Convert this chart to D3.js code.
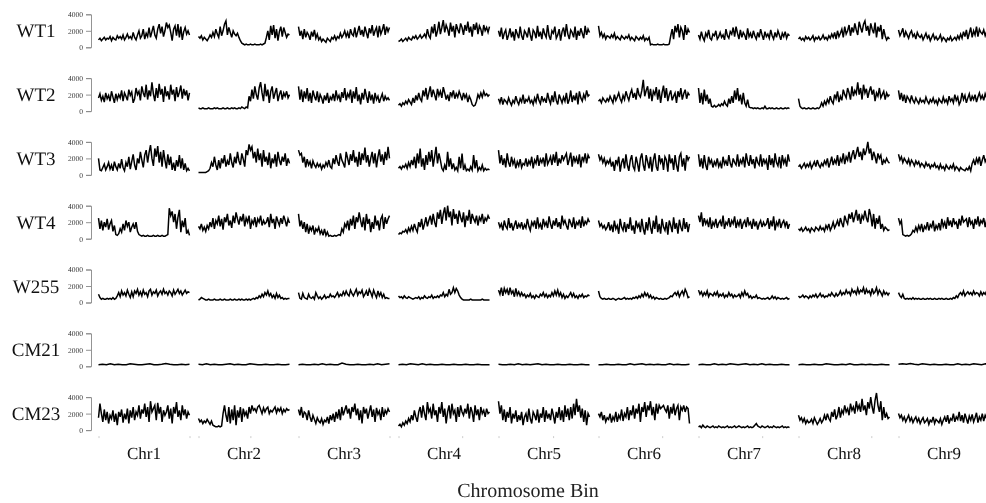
<!DOCTYPE html>
<html>
<head>
<meta charset="utf-8">
<script src="https://cdn.jsdelivr.net/npm/d3@7"></script>
<style>
html,body{margin:0;padding:0;background:#fff;}
svg{display:block;will-change:transform;}
text{text-rendering:geometricPrecision;}
</style>
</head>
<body>
<svg id="chart" width="986" height="503"></svg>
<script>
// Read counts per chromosome bin, in hundreds (20 = 2000)
const samples = ["WT1","WT2","WT3","WT4","W255","CM21","CM23"];
const chromosomes = ["Chr1","Chr2","Chr3","Chr4","Chr5","Chr6","Chr7","Chr8","Chr9"];
const yTicks = [0, 20, 40];
const xTickFrac = [[0,1],[0,0.57],[0,1],[0,0.7],[0,0.6],[0,0.7],[0,0.7],[0,0.8],[0]];
const xAxisTitle = "Chromosome Bin";

const WT1 = [
[9,11,8,10,12,9,11,10,13,8,12,10,9,14,11,13,10,15,9,12,16,11,13,10,18,12,9,15,20,11,14,22,10,17,13,24,12,19,26,15,11,22,28,17,25,13,20,30,24,27,18,8,22,26,14,28,12,25,9,19,24,16,20,15],
[13,11,14,9,12,10,8,11,15,12,18,13,22,16,12,25,14,20,28,32,15,24,18,12,20,16,14,17,12,8,5,4,3,4,3,3,4,3,3,4,3,3,3,4,3,4,5,12,20,9,26,15,27,11,22,8,19,25,13,24,18,12,16,15],
[25,14,20,10,22,12,18,15,9,19,13,21,11,16,9,12,7,10,8,6,11,9,7,12,10,14,9,13,11,17,12,15,20,13,18,11,22,16,14,24,12,19,26,15,21,13,25,18,11,23,17,27,14,20,24,12,26,16,21,28,15,25,19,24],
[7,8,10,7,9,11,8,12,10,9,13,11,14,10,12,15,11,13,16,12,22,14,11,25,17,28,13,20,31,16,24,33,18,27,22,14,30,19,26,12,28,22,17,29,24,15,27,20,31,18,25,13,28,21,30,16,26,22,14,27,20,24,18,25],
[20,13,24,10,17,21,9,15,23,12,19,8,22,16,11,25,14,9,20,17,12,24,15,8,21,18,11,26,13,19,10,23,16,12,27,14,9,20,17,25,11,15,22,8,19,24,13,28,16,10,21,18,12,25,9,20,14,23,17,11,26,15,22,18],
[26,14,18,12,16,10,14,13,11,15,12,17,10,13,11,9,14,12,10,13,11,15,9,12,10,8,13,11,9,12,10,14,8,11,9,12,3,4,3,3,3,4,3,3,3,4,3,3,3,4,14,22,10,26,18,28,12,24,20,9,27,15,22,18],
[15,10,19,12,8,17,13,21,11,9,16,14,20,10,13,18,12,15,9,22,14,11,19,16,24,13,25,17,10,21,12,18,15,9,23,13,17,11,20,14,10,18,12,22,15,9,19,13,16,11,21,14,10,18,12,20,15,9,17,13,19,11,16,14],
[10,12,9,11,8,13,10,12,9,11,14,8,12,10,13,9,11,15,10,12,9,14,11,16,12,18,10,20,13,17,22,12,25,16,20,27,14,24,18,29,21,15,31,24,18,28,32,20,26,14,29,22,17,30,12,25,19,27,10,22,14,9,12,10],
[21,14,18,23,12,19,15,11,17,20,13,16,10,18,14,12,15,9,13,17,11,14,8,12,16,10,13,9,11,15,8,12,10,7,11,9,13,8,10,12,9,14,10,16,11,19,13,21,10,17,24,12,20,15,25,13,22,18,16,21,14,19,17,15]
];
const WT2 = [
[16,21,13,18,11,22,15,19,12,24,17,10,21,14,20,16,25,12,22,18,13,26,19,23,10,15,28,20,24,13,30,22,17,32,14,25,18,35,21,12,28,16,33,20,27,11,30,18,24,14,32,20,26,12,29,17,23,31,15,27,19,25,13,22],
[4,3,3,4,3,3,3,4,3,3,3,4,3,4,3,3,3,4,3,3,4,3,3,4,3,4,3,3,4,3,5,4,3,5,4,18,12,26,15,30,20,14,28,35,22,12,33,18,26,10,24,30,15,22,28,12,20,25,14,22,18,24,16,20],
[30,14,26,11,24,15,28,12,22,10,25,18,13,24,11,20,16,9,19,13,22,10,17,14,21,12,25,15,19,11,23,16,28,13,21,17,26,10,24,15,29,12,20,8,22,14,27,18,10,24,13,20,9,22,14,18,10,16,21,12,18,14,16,13],
[7,9,6,10,8,12,9,14,11,8,16,10,19,13,22,15,12,25,18,28,14,22,30,17,26,20,13,27,19,24,16,29,22,14,20,12,23,18,25,15,21,17,24,19,13,22,16,20,11,18,14,8,6,7,12,20,16,22,17,24,19,21,18,20],
[15,10,17,8,14,12,9,16,11,7,13,10,18,12,8,15,11,20,9,14,12,17,10,13,8,16,11,21,13,9,18,12,15,10,22,14,9,19,11,24,13,8,20,15,10,17,12,22,9,14,25,11,19,13,22,8,24,16,12,20,15,25,18,20],
[12,14,10,16,13,11,15,12,18,14,10,20,13,17,22,15,11,19,14,24,18,13,21,26,16,22,14,28,20,17,25,38,18,25,30,15,27,12,24,20,29,14,26,10,22,31,16,28,12,20,25,13,18,22,10,24,17,28,14,21,26,15,22,19],
[28,10,22,8,26,12,20,9,15,6,5,7,5,6,8,6,9,7,12,8,6,15,9,18,10,25,14,28,12,20,8,22,10,6,14,5,4,4,3,4,3,4,3,3,4,3,6,3,3,4,3,4,3,3,4,3,3,4,3,3,4,3,4,3],
[15,6,4,3,4,3,3,4,3,3,4,3,3,4,3,5,10,6,12,8,14,10,18,12,9,20,15,24,11,18,13,26,20,16,28,22,14,30,18,25,21,35,20,28,14,32,22,27,16,24,30,20,26,12,22,18,28,16,20,24,14,22,18,20],
[25,14,22,12,20,10,18,15,11,19,13,10,16,12,9,15,11,13,10,17,12,9,14,11,16,10,13,8,15,12,10,17,11,14,9,18,12,15,10,20,13,17,8,12,22,14,19,10,16,21,12,18,14,20,11,17,22,15,19,13,21,16,18,20]
];
const WT3 = [
[20,6,5,9,13,6,10,15,7,12,5,16,10,6,14,8,19,9,5,15,10,22,7,16,25,12,6,20,14,28,18,9,24,30,15,27,36,20,11,32,22,35,15,28,10,30,18,8,25,12,22,6,15,5,18,10,24,8,20,6,14,5,8,5],
[3,3,3,3,3,3,4,5,8,15,10,22,12,6,18,8,20,14,24,10,17,12,26,15,9,22,14,28,17,12,26,19,10,30,24,37,30,34,20,28,15,32,18,26,10,30,16,22,12,27,8,20,14,25,10,28,18,12,22,16,26,11,20,14],
[30,24,26,15,22,9,19,12,16,8,17,12,9,14,10,13,7,12,9,15,11,18,10,8,20,13,24,16,11,26,18,14,9,28,20,12,25,17,30,15,22,10,28,12,26,18,33,15,24,10,20,28,14,26,9,22,31,16,25,12,28,18,34,20],
[8,10,7,11,9,13,8,15,10,18,12,22,8,26,14,32,10,20,6,24,12,28,16,30,10,22,34,14,26,18,8,5,12,6,28,10,20,7,14,6,9,5,22,8,26,6,12,5,7,5,10,6,24,8,18,5,9,6,12,5,8,6,7,6],
[30,14,24,12,20,9,26,15,10,22,13,18,8,16,11,19,9,14,12,20,10,17,13,22,8,18,14,24,11,19,15,21,10,26,13,17,22,12,25,15,28,11,20,14,24,18,22,26,12,19,27,10,23,16,21,13,25,9,22,17,26,14,24,20],
[25,18,22,15,20,12,17,14,19,10,16,5,18,13,22,4,15,20,8,25,12,5,18,24,10,6,22,14,4,20,26,12,5,24,16,8,22,4,18,26,10,5,24,15,20,6,22,18,4,25,14,20,6,24,12,4,22,26,10,20,5,24,18,22],
[25,10,20,8,24,12,6,22,14,18,9,16,12,20,10,15,8,22,13,17,11,24,14,9,20,15,12,25,10,18,14,22,9,26,16,11,24,13,19,8,22,15,12,25,10,20,14,18,6,24,12,20,9,26,15,11,22,8,24,14,19,10,25,16],
[10,12,8,11,14,9,13,10,15,8,12,16,10,18,12,9,14,11,17,13,20,9,15,22,12,18,14,24,11,20,16,26,13,22,18,28,15,24,30,19,26,34,22,28,18,32,24,30,40,26,32,18,28,22,14,26,20,24,12,18,15,20,16,14],
[25,18,22,15,20,17,14,19,12,18,15,11,17,13,16,10,14,12,9,15,11,13,8,12,10,14,9,11,7,13,8,10,6,12,9,7,11,8,13,6,10,8,5,9,7,6,5,8,6,10,5,14,18,12,20,15,22,11,18,24,16,20,14,22]
];
const WT4 = [
[25,12,22,10,20,14,24,11,18,22,9,16,5,4,6,12,8,18,10,22,15,20,8,14,18,12,20,9,5,4,3,4,3,3,4,3,3,3,4,3,3,4,3,3,4,3,3,4,5,37,28,33,20,30,12,26,35,8,22,14,25,6,10,4],
[15,12,18,10,14,9,16,12,20,14,25,12,22,18,28,15,24,11,26,20,30,16,22,13,28,19,32,24,17,27,21,30,15,25,20,28,12,22,18,26,14,24,20,28,16,22,18,20,26,14,30,19,24,12,27,21,16,25,18,28,22,15,24,19],
[30,15,22,12,20,8,18,6,14,10,16,5,12,9,14,6,10,4,12,4,8,3,4,3,3,4,3,4,5,4,12,8,18,14,22,10,24,16,28,12,26,20,32,22,14,26,10,30,18,24,8,20,12,28,16,22,10,24,28,12,26,18,24,28],
[5,7,6,9,8,11,7,13,9,15,10,18,12,8,20,14,24,11,18,26,15,22,28,17,30,20,14,32,24,35,18,30,38,22,40,26,33,16,36,24,30,18,34,26,20,32,14,28,22,35,18,30,24,20,28,16,26,22,30,18,25,22,28,24],
[20,14,18,10,22,15,12,25,13,19,10,16,22,12,18,14,20,11,17,13,24,15,10,20,16,22,12,26,14,18,11,24,16,20,13,27,18,12,22,16,25,14,20,12,28,18,22,16,11,24,19,14,26,12,20,17,23,13,27,15,21,18,24,20],
[22,15,18,13,16,11,14,20,10,17,8,22,12,16,6,24,14,10,20,8,18,12,26,10,16,6,22,14,18,8,24,12,5,20,10,26,14,6,22,12,28,8,18,6,24,14,10,20,5,22,16,8,26,12,19,6,23,14,9,25,12,20,8,18],
[28,20,32,15,25,18,22,14,26,12,20,16,24,13,19,22,15,28,12,20,17,25,14,22,18,27,13,21,16,24,12,19,22,14,26,17,20,12,24,15,21,11,18,22,14,20,16,18,25,12,22,15,27,10,20,16,24,13,19,22,15,21,12,18],
[12,10,13,9,11,14,10,12,8,13,11,9,14,12,10,15,11,13,9,16,12,18,10,14,20,13,17,22,15,25,19,14,28,22,18,30,24,32,20,27,35,22,30,18,28,24,34,25,20,36,28,15,30,12,25,18,28,12,18,10,14,12,10,11],
[25,18,22,5,4,3,4,3,4,6,10,8,14,9,16,11,18,8,15,12,20,10,17,14,22,9,16,12,19,10,24,15,20,12,26,16,22,14,25,18,20,12,24,16,28,20,22,24,14,26,18,21,12,24,17,27,15,22,19,25,14,23,18,25]
];
const W255 = [
[10,6,4,5,4,4,5,4,5,4,6,4,5,8,12,7,14,9,12,8,15,10,6,13,7,14,11,16,9,13,8,15,10,12,7,14,16,9,13,11,15,8,12,14,10,16,11,13,9,14,12,8,15,10,13,16,11,14,9,12,15,11,13,12],
[3,4,6,5,4,3,3,4,3,3,3,4,3,3,3,4,3,3,4,3,3,3,4,3,3,4,3,3,4,3,4,3,3,4,3,4,3,4,5,4,6,5,8,6,10,7,12,9,14,8,11,6,9,5,11,6,9,5,6,4,5,4,5,5],
[12,5,4,11,6,5,4,10,6,5,7,4,12,8,5,7,4,6,9,5,7,6,10,7,8,6,9,12,7,10,8,13,9,14,10,8,15,11,8,12,16,9,13,11,15,7,10,14,8,16,12,7,15,10,6,14,8,12,6,10,5,6,5,5],
[8,6,7,5,8,6,5,7,6,5,4,5,6,5,7,4,6,5,8,6,5,7,6,9,5,7,6,8,6,9,8,12,7,10,8,16,10,12,18,12,17,14,9,6,4,3,3,3,3,3,4,3,3,3,3,3,3,3,4,3,3,3,3,3],
[15,10,18,8,17,12,16,9,18,11,14,7,17,9,13,8,12,8,10,6,9,7,11,6,8,5,9,7,6,10,8,12,7,10,6,9,7,12,8,14,9,15,8,12,6,10,5,8,6,9,12,7,11,6,8,5,9,7,10,6,8,7,9,8],
[14,7,5,4,5,4,4,5,4,4,5,4,3,4,5,4,4,5,6,4,5,4,5,4,6,5,7,5,8,6,10,7,12,8,11,6,9,5,7,4,6,5,4,5,4,4,5,4,5,6,8,7,10,12,9,13,7,11,14,9,16,12,6,7],
[15,10,13,8,12,9,14,7,11,10,8,12,9,13,7,10,8,11,6,9,7,12,8,10,6,9,7,8,10,6,12,8,14,9,11,6,8,5,7,6,9,5,6,5,4,5,4,5,6,4,5,8,5,7,4,6,5,4,5,4,5,6,4,5],
[8,6,7,9,6,8,7,5,8,6,9,7,10,6,8,11,7,9,6,8,7,10,8,12,9,7,11,8,10,14,9,12,10,15,11,13,9,16,12,14,10,17,11,15,13,18,10,16,12,14,9,17,11,13,18,10,15,12,8,14,10,12,9,12],
[12,8,6,10,5,4,5,4,5,4,6,4,5,4,5,4,4,5,4,4,5,4,5,4,4,5,4,4,5,4,5,4,4,5,4,4,5,4,6,5,8,6,10,12,9,14,8,11,13,10,12,9,14,10,12,11,8,13,9,12,10,14,11,12]
];
const CM21 = [
[2,2.5,2,3,2,2.5,2,2,3,2.5,2,2,2.5,3,2,2,2.5,3.5,2.5,2,2,2.5,2,2.5],
[2.5,2,3,2,2.5,2,2,2.5,3,2,2.5,2,2,3,2.5,2,2,2.5,2,2,2.5,2,2,2.5],
[2,2.5,2,2,2.5,2,3,2,2.5,2,2,4,2.5,2,2,2.5,2,2,2.5,2,3,2,2.5,3],
[2,2.5,2,3,2.5,2,3,2,2.5,2,2,2.5,2,2,2.5,2,2,2.5,2,2,2.5,2,2,2],
[2.5,2,2,2.5,2,3,2,2.5,2,2.5,3,2,2.5,2,2,2.5,2,2,2.5,2,2,2.5,2,2],
[2,2,2.5,2,2,2.5,2,2,3,2,2.5,3,2,2.5,2,2.5,2,2,3,2,2.5,2,2,2.5],
[2,2.5,2,2,3,2,2.5,2,3,2.5,2,2.5,3,2,2.5,2,3,2,2.5,2,2,2.5,2,2],
[2,2.5,2,2,2.5,2,2,3,2.5,2,2,2.5,2,3,2,2,2.5,2,2.5,2,2,2.5,2,2],
[2.5,3,2.5,3.5,2.5,2,3,2.5,2,2.5,2,2,2.5,2,2,3,2,2.5,2,3,2.5,2,3,2.5]
];
const CM23 = [
[15,32,20,10,25,12,22,8,18,14,24,10,20,6,22,16,25,9,20,13,26,8,24,15,28,12,22,18,30,14,25,20,32,16,28,10,35,22,26,30,12,33,20,28,10,24,18,22,30,14,26,8,28,20,34,16,24,12,30,18,25,14,22,18],
[14,10,12,8,11,9,13,10,7,11,6,5,4,4,5,4,5,20,30,18,10,28,8,25,12,30,6,24,15,28,10,26,18,22,14,28,20,30,24,26,22,28,30,25,20,27,22,26,28,20,24,22,25,28,21,26,23,27,20,25,22,26,24,25],
[25,18,28,15,22,20,12,24,16,10,18,13,8,15,11,9,14,7,12,10,16,8,18,12,20,10,22,14,25,12,28,18,24,30,20,26,14,28,22,32,18,26,12,24,8,28,20,26,14,22,30,16,25,10,27,19,23,12,28,16,24,20,26,22],
[5,7,4,9,6,11,8,14,10,18,12,24,16,10,22,28,15,30,20,12,34,22,26,14,32,18,24,10,28,20,34,16,26,8,22,30,14,32,20,24,10,28,16,30,22,18,26,20,32,14,28,22,10,30,18,25,12,28,20,24,16,26,20,22],
[35,20,30,12,25,10,22,15,28,8,20,14,24,10,18,12,22,6,16,20,10,26,14,8,22,18,12,25,9,20,15,28,10,24,14,20,12,26,18,8,22,15,28,12,24,10,30,16,26,12,28,14,32,18,38,22,30,15,26,10,24,6,20,16],
[20,16,22,12,18,10,15,13,20,9,16,12,22,10,18,14,25,11,20,16,28,12,24,18,30,14,26,20,32,10,28,22,34,16,30,24,35,18,28,12,32,20,30,26,28,30,25,22,30,14,28,20,32,18,26,30,12,28,24,30,22,28,26,8],
[4,5,3,6,4,3,5,4,3,4,5,3,4,3,5,4,3,4,3,4,5,3,4,3,4,5,3,4,5,4,3,4,3,4,5,3,4,3,4,6,8,5,4,3,5,4,3,4,5,3,4,3,5,4,3,4,3,4,5,3,4,3,4,3],
[18,12,15,10,14,8,12,9,10,13,8,15,11,7,10,14,9,12,18,12,20,14,11,22,16,25,13,18,28,15,24,20,30,22,26,18,32,24,28,20,35,25,30,22,38,24,30,18,34,26,40,28,20,36,45,30,22,35,12,28,15,20,14,16],
[20,15,18,12,16,10,14,18,11,15,9,13,16,10,14,8,12,15,9,11,14,7,12,10,16,8,13,11,9,14,7,12,16,10,18,8,14,12,20,10,16,13,22,11,18,9,20,14,8,17,12,19,10,15,21,9,16,12,20,11,18,14,22,16]
];
const seriesBySample = [WT1, WT2, WT3, WT4, W255, CM21, CM23];

// ---- layout ----
const svg = d3.select("#chart");
const font = "'Liberation Serif','Times New Roman',serif";
const rowBase0 = 47.3, rowStep = 63.8, rowH = 33;
const colX0 = 98.5, colStep = 100, colW = 91;
const axisX = 91;

samples.forEach((name, r) => {
  const base = rowBase0 + r * rowStep;
  const y = d3.scaleLinear().domain([0, 40]).range([base, base - rowH]);

  const ax = svg.append("g").attr("transform", `translate(${axisX},0)`)
    .call(d3.axisLeft(y).tickValues(yTicks).tickSize(5).tickPadding(3)
      .tickFormat(d => String(d * 100)));
  ax.select(".domain").attr("stroke", "#888").attr("stroke-width", 0.9);
  ax.selectAll(".tick line").attr("stroke", "#888").attr("stroke-width", 0.9);
  ax.selectAll("text").attr("font-family", font).attr("font-size", 7.5).attr("fill", "#333");

  svg.append("text").attr("x", 36).attr("y", base - rowH / 2 + 6.5)
    .attr("text-anchor", "middle").attr("font-family", font).attr("font-size", 19)
    .attr("fill", "#111").text(name);

  seriesBySample[r].forEach((vals, c) => {
    const x = d3.scaleLinear().domain([0, vals.length - 1])
      .range([colX0 + c * colStep, colX0 + c * colStep + colW]);
    const line = d3.line().x((d, i) => x(i)).y(d => y(d));
    svg.append("path").datum(vals).attr("d", line)
      .attr("fill", "none").attr("stroke", "#000")
      .attr("stroke-width", 1.5).attr("stroke-linejoin", "miter");

    if (r === samples.length - 1) {
      const fx = d3.scaleLinear().domain([0, 1])
        .range([colX0 + c * colStep, colX0 + c * colStep + colW]);
      const xa = svg.append("g").attr("transform", `translate(0,${base + 6})`)
        .call(d3.axisBottom(fx).tickValues(xTickFrac[c]).tickSize(2).tickFormat(""));
      xa.select(".domain").remove();
      xa.selectAll(".tick line").attr("stroke", "#ccc");
    }
  });
});

const lastBase = rowBase0 + (samples.length - 1) * rowStep;
chromosomes.forEach((chr, c) => {
  svg.append("text").attr("x", colX0 + c * colStep + colW / 2).attr("y", lastBase + 29)
    .attr("text-anchor", "middle").attr("font-family", font).attr("font-size", 17)
    .attr("fill", "#111").text(chr);
});

svg.append("text").attr("x", 528).attr("y", 497)
  .attr("text-anchor", "middle").attr("font-family", font).attr("font-size", 20)
  .attr("fill", "#222").text(xAxisTitle);
</script>
</body>
</html>
